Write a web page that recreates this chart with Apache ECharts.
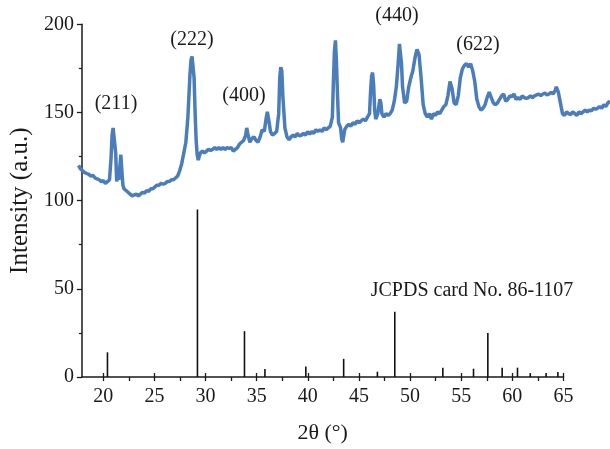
<!DOCTYPE html>
<html>
<head>
<meta charset="utf-8">
<script src="https://cdn.jsdelivr.net/npm/echarts@6/dist/echarts.min.js"></script>
<style>html,body{margin:0;padding:0;background:#fff;}#c{width:610px;height:449px;}</style>
</head>
<body>
<div id="c"></div>
<script>
// Measured XRD pattern: 2θ (deg) and intensity (a.u.)
const xrdTheta = [18.0,18.2,18.4,18.6,18.8,19.0,19.2,19.4,19.6,19.8,20.0,20.2,20.4,20.6,20.8,21.0,21.15,21.25,21.35,21.5,21.6,21.7,21.8,21.9,22.0,22.1,22.2,22.3,22.4,22.6,22.8,23.0,23.2,23.4,23.6,23.8,24.0,24.2,24.4,24.6,24.8,25.0,25.2,25.4,25.6,25.8,26.0,26.2,26.4,26.6,26.8,27.0,27.2,27.4,27.6,27.8,28.0,28.2,28.4,28.6,28.8,28.9,29.0,29.1,29.2,29.3,29.4,29.5,29.6,29.8,30.0,30.2,30.4,30.6,30.8,31.0,31.2,31.4,31.6,31.8,32.0,32.2,32.4,32.6,32.8,33.0,33.2,33.4,33.6,33.8,34.0,34.2,34.3,34.4,34.6,34.8,35.0,35.2,35.4,35.6,35.8,36.0,36.2,36.3,36.4,36.5,36.6,36.8,37.0,37.2,37.4,37.5,37.6,37.7,37.8,38.0,38.2,38.4,38.6,38.8,39.0,39.2,39.4,39.6,39.8,40.0,40.2,40.4,40.6,40.8,41.0,41.2,41.4,41.6,41.8,42.0,42.2,42.4,42.6,42.7,42.8,42.9,43.0,43.1,43.2,43.4,43.5,43.6,43.8,44.0,44.2,44.4,44.6,44.8,45.0,45.2,45.4,45.6,45.8,46.0,46.2,46.3,46.4,46.5,46.6,46.7,46.8,47.0,47.2,47.3,47.4,47.6,47.8,48.0,48.2,48.4,48.6,48.8,49.0,49.1,49.2,49.3,49.4,49.6,49.8,50.0,50.2,50.4,50.6,50.8,50.9,51.0,51.2,51.4,51.6,51.8,52.0,52.2,52.4,52.6,52.8,53.0,53.2,53.4,53.6,53.8,54.0,54.1,54.2,54.4,54.6,54.8,55.0,55.2,55.4,55.6,55.8,56.0,56.2,56.4,56.6,56.8,57.0,57.2,57.4,57.6,57.8,58.0,58.2,58.4,58.6,58.8,59.0,59.2,59.4,59.6,59.8,60.0,60.2,60.4,60.6,60.8,61.0,61.2,61.4,61.6,61.8,62.0,62.2,62.4,62.6,62.8,63.0,63.2,63.4,63.6,63.8,64.0,64.2,64.3,64.5,64.7,64.9,65.1,65.3,65.5,65.7,65.9,66.1,66.3,66.5,66.7,66.9,67.1,67.3,67.5,67.7,67.9,68.1,68.3,68.5,68.7,68.9,69.1,69.3,69.5];
const xrdIntensity = [121,119,118,117,116.5,116,115,115.5,114,113.5,113,112,112.5,111,112,113,125,138,142,141,128,112,117,113,120,127,118,110,108,107,106,105,104,104.5,105,104,105,106,105.5,107,106.5,108,108,109,110,110,111,110.5,111,112,112,113,113,114,115,118,122,128,134,148,172,180,182,181,170,150,135,127,124,128,129,128,129,130,129.5,130,131,130,131,130,131,130,131,130.5,131,129,130,131,133,134,135,138,142,139,134,136,137,135,134,137,141,140,148,151,150,144,140,138,139,140,150,170,176,174,160,142,137,135.5,137,138,137,139,137.5,138,139,138,140,138.5,140,139,141,140,141,140,142,141,142,143,148,168,185,191,178,160,145,142,136,134,141,143,144,143,145,144,146,145,146,147,146,148,150,162,171,173,166,152,147,150,158,156,150,148,150,149,150,152,157,165,180,189,188,178,165,156,157,165,170,174,181,186,187,183,170,155,150,148,150,147,150,149,151,150,152,154,155,160,168,169,164,156,155,160,170,175,177,178,176,178,174,168,158,154,152,153,155,159,162,159,156,155,156,158,160,161,157,158,160,159.5,161,158,159,158,160,159,158.5,159,160,159,160,160.5,161,160,161,161.5,160.5,161,162,161,163,165,162,156,150,149,151,150,149.5,151,150,149,151,150,151,152,151,152,151.5,153,152.5,153,154,153,155,154,156,157];
// JCPDS card No. 86-1107 reference lines
const cardTheta = [20.4,29.2,33.8,35.8,39.8,43.5,46.8,48.5,53.2,56.2,57.6,59.0,60.5,61.75,63.3,64.45];
const cardIntensity = [14,95,26,4.5,6,10.3,3,37,5.3,4.7,25,5.3,5.3,2.2,2.2,2.8];
// Axis tick labels
const xTicks = [20,25,30,35,40,45,50,55,60,65];
const xMinorTicks = [22.5,27.5,32.5,37.5,42.5,47.5,52.5,57.5,62.5];
const yTicks = [0,50,100,150,200];
// Peak annotations
const peakLabels = ['(211)','(222)','(400)','(440)','(622)'];
const cardLabel = 'JCPDS card No. 86-1107';

const FONT = '"Liberation Serif", "Times New Roman", serif';
const TXT = '#1a1a1a';
const chart = echarts.init(document.getElementById('c'));
const lineData = xrdTheta.map((t, i) => [t, xrdIntensity[i]]);
const barData = cardTheta.map((t, i) => [t, cardIntensity[i]]);
const allXTicks = xTicks.concat(xMinorTicks).sort((a,b)=>a-b);
const labelPos = [[116,104],[192,40],[244,96],[397,16],[478,45]];

// Scale is 10.318 px per degree; the pattern grid extends to the right edge of the canvas.
const plotLeft = 77.5, plotRight = 46.5;
const pxPerDeg = (610 - plotLeft - plotRight) / (65 - 17.9);
const extMax = 17.9 + (610 - plotLeft) / pxPerDeg;

chart.setOption({
  animation: false,
  backgroundColor: '#fff',
  grid: [
    { left: plotLeft, right: plotRight, top: 24.3, bottom: 67.3, containLabel: false },
    { left: plotLeft, right: 0, top: 24.3, bottom: 67.3, containLabel: false }
  ],
  xAxis: [{
    type: 'value', gridIndex: 0, min: 17.9, max: 65,
    name: '2θ (°)', nameLocation: 'middle', nameGap: 45,
    nameTextStyle: { fontFamily: FONT, fontSize: 22, color: TXT },
    axisLine: { show: true, onZero: false, lineStyle: { color: TXT, width: 1.5 } },
    axisTick: { show: true, customValues: allXTicks, length: 4, lineStyle: { color: TXT, width: 1.3 } },
    axisLabel: { customValues: xTicks, fontFamily: FONT, fontSize: 20, color: TXT, margin: 10 },
    splitLine: { show: false }
  }, {
    type: 'value', gridIndex: 0, min: 17.9, max: 65, position: 'bottom',
    axisLine: { show: false },
    axisTick: { show: true, inside: true, customValues: xTicks, length: 4, lineStyle: { color: TXT, width: 1.3 } },
    axisLabel: { show: false },
    splitLine: { show: false }
  }, {
    type: 'value', gridIndex: 1, min: 17.9, max: extMax, show: false
  }],
  yAxis: [{
    type: 'value', gridIndex: 0, min: 0, max: 200, interval: 50,
    name: 'Intensity (a.u.)', nameLocation: 'middle', nameGap: 45,
    nameTextStyle: { fontFamily: FONT, fontSize: 25, color: TXT },
    axisLine: { show: true, lineStyle: { color: TXT, width: 1.5 } },
    axisTick: { show: true, length: 5, lineStyle: { color: TXT, width: 1.3 } },
    minorTick: { show: true, splitNumber: 2, length: 3, lineStyle: { color: TXT, width: 1.2 } },
    axisLabel: { fontFamily: FONT, fontSize: 20, color: TXT, margin: 8 },
    splitLine: { show: false }
  }, {
    type: 'value', gridIndex: 1, min: 0, max: 200, show: false
  }],
  series: [{
    type: 'bar', xAxisIndex: 0, yAxisIndex: 0, data: barData, barWidth: 1.6,
    itemStyle: { color: '#111' }, silent: true
  }, {
    type: 'line', xAxisIndex: 2, yAxisIndex: 1, data: lineData, showSymbol: false,
    lineStyle: { color: '#4a7dba', width: 3.5 }, silent: true
  }],
  graphic: peakLabels.map((t, i) => ({
    type: 'text', x: labelPos[i][0], y: labelPos[i][1],
    style: { text: t, fontFamily: FONT, fontSize: 20, fill: TXT, align: 'center', verticalAlign: 'middle' }
  })).concat([{
    type: 'text', x: 472, y: 291,
    style: { text: cardLabel, fontFamily: FONT, fontSize: 20, fill: TXT, align: 'center', verticalAlign: 'middle' }
  }])
});
</script>
</body>
</html>
